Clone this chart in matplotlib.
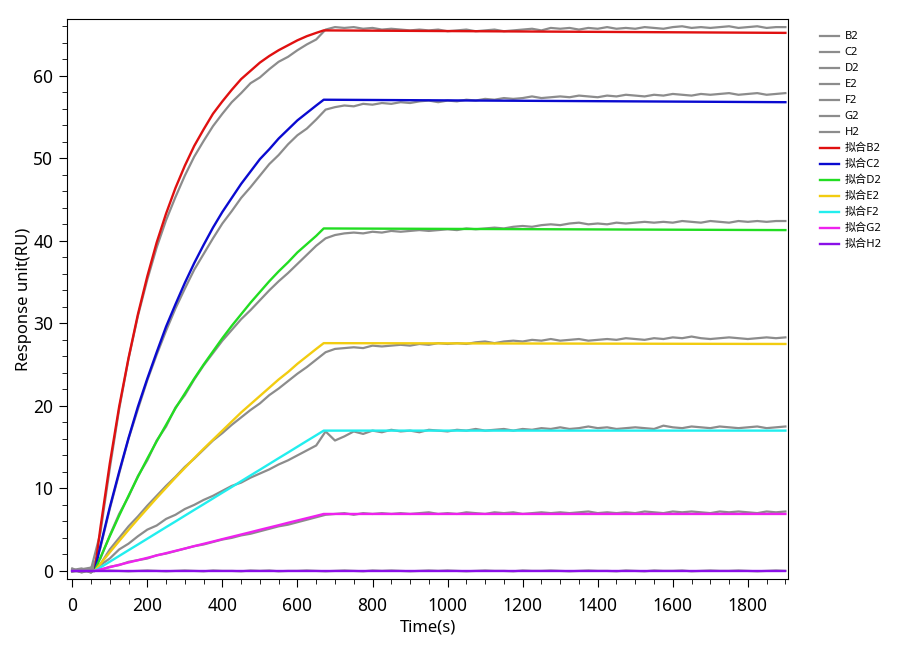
import matplotlib
matplotlib.use("Agg")
import matplotlib.pyplot as plt
from matplotlib.ticker import MultipleLocator

plt.rcParams['font.family'] = ['Noto Sans', 'Noto Sans CJK SC', 'DejaVu Sans']

# measured curves, one point every 25 s
time_s = list(range(0, 1901, 25))

B2 = [0.3, -0.2, 0.2, 4.6, 12.4, 19.6, 25.7, 30.9, 35.3, 39.2, 42.5, 45.3, 47.9, 50.2,
      52.1, 53.9, 55.4, 56.8, 57.9, 59.1, 59.8, 60.8, 61.7, 62.3, 63.1, 63.8, 64.4, 65.6,
      65.9, 65.8, 65.9, 65.7, 65.8, 65.6, 65.7, 65.6, 65.5, 65.6,
      65.5, 65.6, 65.4, 65.5, 65.6, 65.4, 65.5, 65.6, 65.4, 65.5,
      65.6, 65.7, 65.5, 65.8, 65.7, 65.8, 65.6, 65.8, 65.7, 65.9,
      65.7, 65.8, 65.7, 65.9, 65.8, 65.7, 65.9, 66.0, 65.8, 65.9,
      65.8, 65.9, 66.0, 65.8, 65.9, 66.0, 65.8, 65.9, 65.9]
C2 = [0.1, 0.3, -0.2, 2.8, 7.5, 11.8, 16.0, 19.6, 23.1, 26.2, 29.1, 31.8, 34.2, 36.5,
      38.4, 40.3, 42.1, 43.6, 45.2, 46.5, 47.9, 49.3, 50.4, 51.7, 52.8, 53.6, 54.7, 55.9,
      56.2, 56.4, 56.3, 56.6, 56.5, 56.7, 56.6, 56.8, 56.7, 56.9,
      57.0, 56.8, 57.0, 56.9, 57.1, 57.0, 57.2, 57.1, 57.3, 57.2,
      57.3, 57.5, 57.3, 57.4, 57.5, 57.4, 57.6, 57.5, 57.4, 57.6,
      57.5, 57.7, 57.6, 57.5, 57.7, 57.6, 57.8, 57.7, 57.6, 57.8,
      57.7, 57.8, 57.9, 57.7, 57.8, 57.9, 57.7, 57.8, 57.9]
D2 = [-0.1, 0.2, 0.4, 1.5, 4.3, 6.9, 9.0, 11.5, 13.4, 15.8, 17.5, 19.8, 21.3, 23.2,
      24.9, 26.4, 27.9, 29.2, 30.5, 31.6, 32.8, 34.0, 35.1, 36.1, 37.2, 38.3, 39.4, 40.3,
      40.7, 40.9, 41.0, 40.9, 41.1, 41.0, 41.2, 41.1, 41.2, 41.3,
      41.2, 41.3, 41.4, 41.3, 41.5, 41.4, 41.5, 41.6, 41.5, 41.7,
      41.8, 41.7, 41.9, 42.0, 41.9, 42.1, 42.2, 42.0, 42.1, 42.0,
      42.2, 42.1, 42.2, 42.3, 42.2, 42.3, 42.2, 42.4, 42.3, 42.2,
      42.4, 42.3, 42.2, 42.4, 42.3, 42.4, 42.3, 42.4, 42.4]
E2 = [0.2, -0.1, 0.3, 0.8, 2.6, 4.0, 5.4, 6.6, 7.9, 9.1, 10.3, 11.4, 12.6, 13.6,
      14.7, 15.8, 16.7, 17.7, 18.6, 19.5, 20.3, 21.3, 22.1, 23.0, 23.9, 24.7, 25.6, 26.5,
      26.9, 27.0, 27.1, 27.0, 27.3, 27.2, 27.3, 27.4, 27.3, 27.5,
      27.4, 27.6, 27.5, 27.6, 27.5, 27.7, 27.8, 27.6, 27.8, 27.9,
      27.8, 28.0, 27.9, 28.1, 27.9, 28.0, 28.1, 27.9, 28.0, 28.1,
      28.0, 28.2, 28.1, 28.0, 28.2, 28.1, 28.3, 28.2, 28.4, 28.2,
      28.1, 28.2, 28.3, 28.2, 28.1, 28.2, 28.3, 28.2, 28.3]
F2 = [0.0, 0.2, -0.2, 0.7, 1.5, 2.6, 3.3, 4.2, 5.0, 5.5, 6.3, 6.8, 7.5, 8.0,
      8.6, 9.1, 9.7, 10.3, 10.7, 11.3, 11.8, 12.3, 12.9, 13.4, 14.0, 14.6, 15.2, 16.9,
      15.8, 16.3, 16.9, 16.6, 17.0, 16.8, 17.1, 16.9, 17.0, 16.8,
      17.1, 17.0, 16.9, 17.1, 17.0, 17.2, 17.0, 17.1, 17.2, 17.0,
      17.2, 17.1, 17.3, 17.2, 17.4, 17.2, 17.3, 17.5, 17.3, 17.4,
      17.2, 17.3, 17.4, 17.3, 17.2, 17.6, 17.4, 17.3, 17.5, 17.4,
      17.3, 17.5, 17.4, 17.3, 17.4, 17.5, 17.3, 17.4, 17.5]
G2 = [0.1, -0.1, 0.2, 0.1, 0.5, 0.7, 1.1, 1.3, 1.5, 1.9, 2.1, 2.4, 2.7, 3.0,
      3.2, 3.5, 3.8, 4.0, 4.3, 4.5, 4.8, 5.1, 5.4, 5.6, 5.9, 6.2, 6.5, 6.8,
      6.9, 7.0, 6.8, 7.0, 6.9, 7.0, 6.9, 7.0, 6.9, 7.0,
      7.1, 6.9, 7.0, 6.9, 7.1, 7.0, 6.9, 7.1, 7.0, 7.1,
      6.9, 7.0, 7.1, 7.0, 7.1, 7.0, 7.1, 7.2, 7.0, 7.1,
      7.0, 7.1, 7.0, 7.2, 7.1, 7.0, 7.2, 7.1, 7.2, 7.1,
      7.0, 7.2, 7.1, 7.2, 7.1, 7.0, 7.2, 7.1, 7.2]
H2 = [0.1, -0.1, 0.0, 0.0, 0.05, 0.0, -0.05, 0.0, 0.05, 0.0,
      -0.05, 0.0, 0.05, 0.0, -0.05, 0.05, 0.0, 0.0, -0.05, 0.05,
      0.0, 0.05, -0.05, 0.0, 0.0, 0.05, 0.0, -0.05, 0.0, 0.05,
      0.0, -0.05, 0.05, 0.0, 0.05, 0.0, -0.05, 0.0, 0.05, 0.0,
      0.05, 0.0, -0.05, 0.0, 0.05, 0.0, 0.0, -0.05, 0.05, 0.0,
      0.0, 0.05, 0.0, -0.05, 0.0, 0.05, 0.0, 0.0, -0.05, 0.05,
      0.0, -0.05, 0.05, 0.0, 0.0, 0.05, -0.05, 0.0, 0.05, 0.0,
      0.0, 0.05, 0.0, -0.05, 0.0, 0.05, 0.0]

# fitted curves
fit_t = [0, 60, 75, 100, 125, 150, 175, 200, 225, 250, 275, 300, 325, 350,
         375, 400, 425, 450, 475, 500, 525, 550, 575, 600, 625, 650, 670, 1900]
fit_B2 = [0, 0, 5.2, 13.0, 19.9, 25.8, 31.1, 35.7, 39.8, 43.3, 46.4, 49.1, 51.5, 53.5,
          55.4, 56.9, 58.3, 59.6, 60.6, 61.6, 62.4, 63.1, 63.7, 64.3, 64.8, 65.2, 65.5, 65.2]
fit_C2 = [0, 0, 3.0, 7.7, 12.0, 16.1, 19.9, 23.3, 26.5, 29.6, 32.3, 34.9, 37.3, 39.5,
          41.6, 43.5, 45.2, 46.9, 48.4, 49.9, 51.1, 52.4, 53.5, 54.6, 55.5, 56.4, 57.1, 56.8]
fit_D2 = [0, 0, 1.6, 4.2, 6.7, 9.1, 11.4, 13.6, 15.7, 17.7, 19.7, 21.5, 23.3, 25.0,
          26.6, 28.2, 29.7, 31.1, 32.5, 33.8, 35.1, 36.3, 37.4, 38.6, 39.6, 40.6, 41.5, 41.3]
fit_E2 = [0, 0, 0.85, 2.25, 3.62, 4.97, 6.28, 7.56, 8.84, 10.07, 11.3, 12.48, 13.66, 14.8,
          15.9, 17.0, 18.1, 19.2, 20.2, 21.2, 22.2, 23.2, 24.1, 25.1, 26.0, 26.9, 27.6, 27.5]
fit_F2 = [0, 0, 0.42, 1.11, 1.81, 2.51, 3.2, 3.9, 4.6, 5.3, 5.99, 6.69, 7.39, 8.08,
          8.78, 9.48, 10.17, 10.87, 11.57, 12.26, 12.96, 13.66, 14.35, 15.05, 15.75, 16.44, 17.0, 17.0]
fit_G2 = [0, 0, 0.17, 0.45, 0.74, 1.02, 1.3, 1.58, 1.87, 2.15, 2.43, 2.71, 3.0, 3.28,
          3.56, 3.85, 4.13, 4.41, 4.69, 4.98, 5.26, 5.54, 5.83, 6.11, 6.39, 6.67, 6.9, 6.9]
fit_H2 = [0.0] * len(fit_t)

names = ['B2', 'C2', 'D2', 'E2', 'F2', 'G2', 'H2']
raw = [B2, C2, D2, E2, F2, G2, H2]
fits = [fit_B2, fit_C2, fit_D2, fit_E2, fit_F2, fit_G2, fit_H2]
fit_colors = ['#e01010', '#0a0ad0', '#22dd22', '#f2cc10', '#22eeee', '#ee22ee', '#8a10e8']

fig = plt.figure(figsize=(9, 6.5), dpi=100)
ax = fig.add_axes([0.074, 0.109, 0.802, 0.862])

for name, y in zip(names, raw):
    ax.plot(time_s, y, color='#8c8c8c', lw=1.6, label=name)
for name, y, c in zip(names, fits, fit_colors):
    ax.plot(fit_t, y, color=c, lw=1.7, label='拟合' + name)

ax.set_xlim(-15, 1908)
ax.set_ylim(-1.0, 66.9)
ax.xaxis.set_major_locator(MultipleLocator(200))
ax.xaxis.set_minor_locator(MultipleLocator(50))
ax.yaxis.set_major_locator(MultipleLocator(10))
ax.yaxis.set_minor_locator(MultipleLocator(2))
ax.tick_params(which='major', length=6, labelsize=12.5)
ax.tick_params(axis='x', which='major', pad=7)
ax.tick_params(which='minor', length=3.5)
ax.set_xlabel('Time(s)', fontsize=12, labelpad=3)
ax.set_ylabel('Response unit(RU)', fontsize=12, labelpad=1)

fig.legend(loc='upper left', bbox_to_anchor=(0.900, 0.967), frameon=False,
           fontsize=8, handlelength=1.7, handletextpad=0.5, labelspacing=0.45)

fig.savefig('out.png', dpi=100)
